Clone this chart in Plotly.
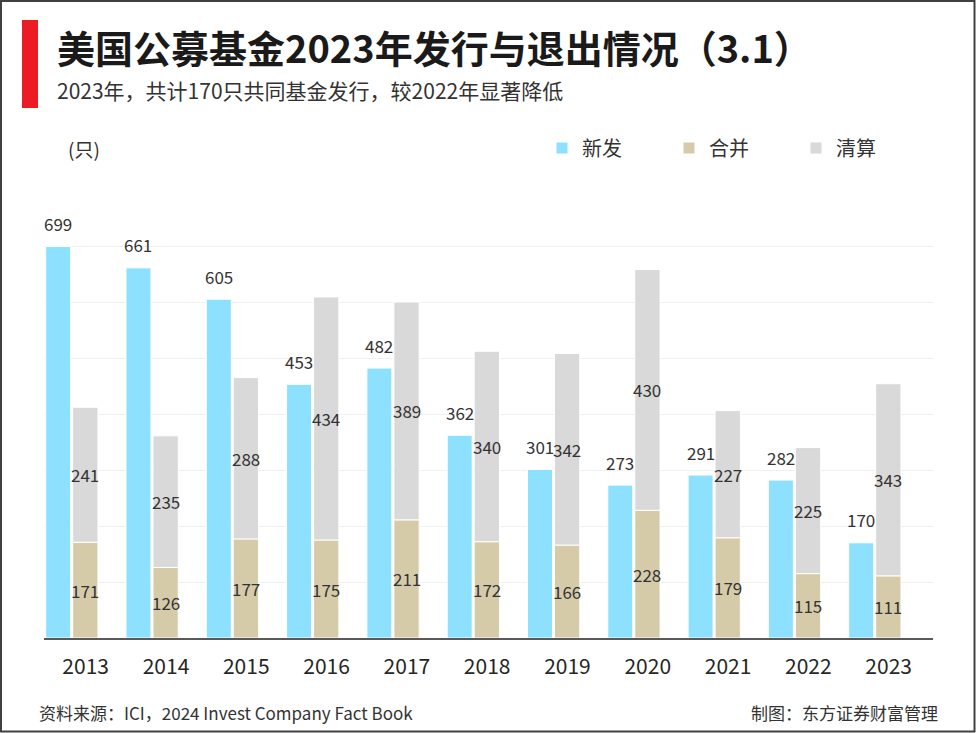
import plotly.graph_objects as go

years = ["2013", "2014", "2015", "2016", "2017", "2018", "2019", "2020", "2021", "2022", "2023"]
new_funds = [699, 661, 605, 453, 482, 362, 301, 273, 291, 282, 170]
merged = [171, 126, 177, 175, 211, 172, 166, 228, 179, 115, 111]
liquidated = [241, 235, 288, 434, 389, 340, 342, 430, 227, 225, 343]
series_names = ["新发", "合并", "清算"]
y_ticks = [0, 100, 200, 300, 400, 500, 600, 700, 800]

FONT = "Microsoft YaHei, Noto Sans CJK SC, sans-serif"
C_BLUE = "#8DE0FE"
C_TAN = "#D6CBA9"
C_GRAY = "#D9D9D9"
TXT = "#333333"

W, H = 976, 733
L, R, T, B = 44, 43, 190, 95
PW = W - L - R
PH = H - T - B
X0, X1 = -0.519, 10.552
UNIT = PW / (X1 - X0)


def px(x):
    return (x - L) / PW


def py(y):
    return (H - B - y) / PH


fig = go.Figure()
fig.add_trace(go.Bar(x=years, y=new_funds, name=series_names[0], offset=-0.498, width=0.311,
                     marker=dict(color=C_BLUE, line=dict(color="white", width=1))))
fig.add_trace(go.Bar(x=years, y=merged, name=series_names[1], offset=-0.162, width=0.315,
                     marker=dict(color=C_TAN, line=dict(color="white", width=1))))
fig.add_trace(go.Bar(x=years, y=liquidated, base=merged, name=series_names[2], offset=-0.162, width=0.315,
                     marker=dict(color=C_GRAY, line=dict(color="white", width=1))))

ann = []
blue_shift = (-0.498 + 0.311 / 2) * UNIT
stack_shift = (-0.162 + 0.315 / 2) * UNIT
for i, (n, m, q) in enumerate(zip(new_funds, merged, liquidated)):
    ann.append(dict(x=i, y=n, xref="x", yref="y", text=str(n), showarrow=False,
                    xshift=blue_shift, yshift=23, yanchor="middle",
                    font=dict(size=17, color=TXT, family=FONT)))
    ann.append(dict(x=i, y=m / 2, xref="x", yref="y", text=str(m), showarrow=False,
                    xshift=stack_shift, yanchor="middle",
                    font=dict(size=17, color=TXT, family=FONT)))
    ann.append(dict(x=i, y=m + q / 2, xref="x", yref="y", text=str(q), showarrow=False,
                    xshift=stack_shift, yanchor="middle",
                    font=dict(size=17, color=TXT, family=FONT)))

ann.append(dict(x=px(55), y=py(46), xref="paper", yref="paper", xanchor="left", yanchor="middle",
                text="<b>美国公募基金2023年发行与退出情况（3.1）</b>", showarrow=False,
                font=dict(size=38, color="#1a1a1a", family=FONT)))
ann.append(dict(x=px(55), y=py(90), xref="paper", yref="paper", xanchor="left", yanchor="middle",
                text="2023年，共计170只共同基金发行，较2022年显著降低", showarrow=False,
                font=dict(size=21, color=TXT, family=FONT)))
ann.append(dict(x=px(66), y=py(148), xref="paper", yref="paper", xanchor="left", yanchor="middle",
                text="(只)", showarrow=False,
                font=dict(size=19, color=TXT, family=FONT)))
ann.append(dict(x=px(37), y=py(712), xref="paper", yref="paper", xanchor="left", yanchor="middle",
                text="资料来源：ICI，2024 Invest Company Fact Book", showarrow=False,
                font=dict(size=17, color=TXT, family=FONT)))
ann.append(dict(x=px(940), y=py(712), xref="paper", yref="paper", xanchor="right", yanchor="middle",
                text="制图：东方证券财富管理", showarrow=False,
                font=dict(size=17, color=TXT, family=FONT)))

shapes = [
    dict(type="rect", xref="paper", yref="paper", x0=px(22), x1=px(38), y0=py(108), y1=py(20),
         fillcolor="#EC1C24", line=dict(width=0), layer="above"),
    dict(type="rect", xref="paper", yref="paper", x0=px(1), x1=px(974.5), y0=py(731.5), y1=py(1),
         fillcolor="rgba(0,0,0,0)", line=dict(color="#404040", width=2), layer="above"),
]

fig.update_layout(
    width=W, height=H,
    margin=dict(l=L, r=R, t=T, b=B, pad=0),
    paper_bgcolor="white", plot_bgcolor="white",
    barmode="overlay",
    font=dict(family=FONT, color=TXT),
    showlegend=True,
    legend=dict(orientation="h", x=px(542), y=py(148), xanchor="left", yanchor="middle",
                font=dict(size=20, color=TXT, family=FONT), entrywidth=82, entrywidthmode="pixels",
                bgcolor="rgba(0,0,0,0)", traceorder="normal"),
    xaxis=dict(type="category", range=[X0, X1], showgrid=False, showline=True,
               linecolor="#595959", linewidth=1.5, ticks="", tickfont=dict(size=21, color="#262626"),
               ticklabelstandoff=9),
    yaxis=dict(range=[0, 800], tickvals=y_ticks, showticklabels=False, showgrid=True,
               gridcolor="#F0F0F0", gridwidth=1, zeroline=False, showline=False),
    annotations=ann,
    shapes=shapes,
)

fig.write_html("out.html", config={"displayModeBar": False},
               post_script="document.body.style.margin='0';document.body.style.overflow='hidden';")
